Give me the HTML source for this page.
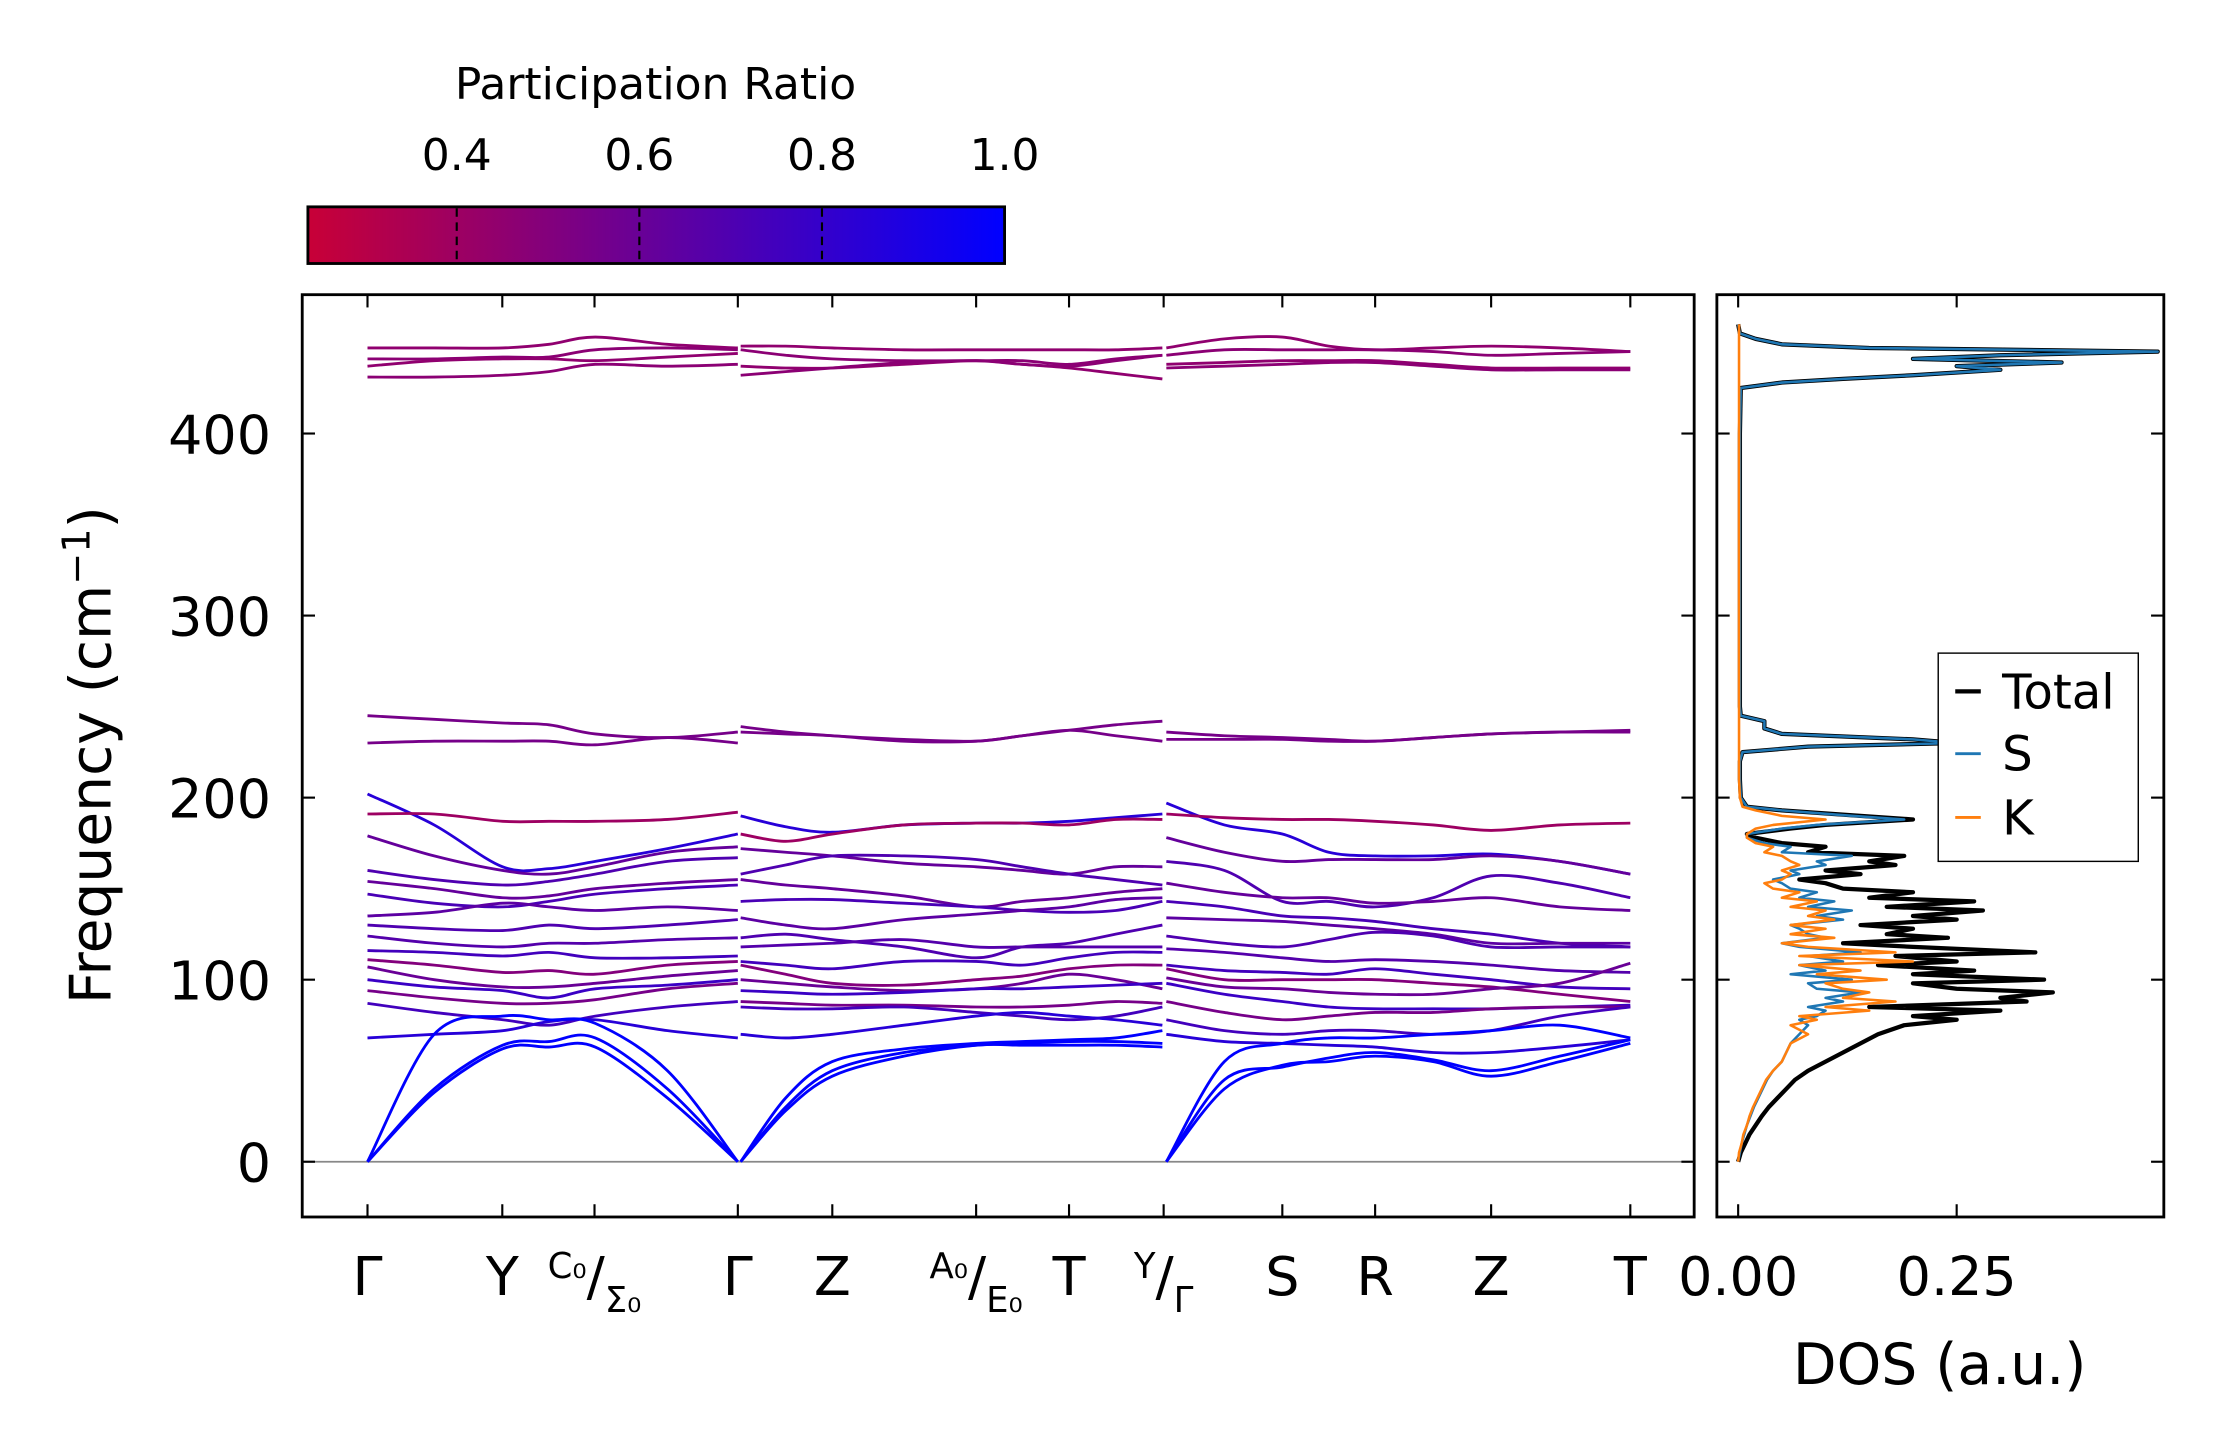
<!DOCTYPE html>
<html><head><meta charset="utf-8"><style>
html,body{margin:0;padding:0;background:#fff}
svg{display:block;font-family:"DejaVu Sans","Liberation Sans",sans-serif}
</style></head><body>
<svg id="fig" width="2222" height="1455" viewBox="0 0 1566 1027" preserveAspectRatio="none" xmlns="http://www.w3.org/2000/svg">
<defs>
<linearGradient id="cbg" x1="0" x2="1" y1="0" y2="0">
<stop offset="0" stop-color="rgb(200,0,55)"/><stop offset="1" stop-color="rgb(0,0,255)"/>
</linearGradient>
<clipPath id="mainclip"><rect x="213" y="208" width="981" height="651"/></clipPath>
<clipPath id="dosclip"><rect x="1210" y="208" width="315" height="651"/></clipPath>
</defs>
<g>
<text x="462" y="70" font-size="31" text-anchor="middle">Participation Ratio</text>
<rect x="217" y="146" width="491" height="40" fill="url(#cbg)" stroke="#000" stroke-width="2"/>
<g id="cbticks"></g>
</g>
<g id="main">
<rect x="213" y="208" width="981" height="651" fill="none" stroke="#000" stroke-width="2"/>
<g id="bands" clip-path="url(#mainclip)"></g>
<g id="mainaxes"></g>
<text transform="translate(78,533) rotate(-90)" font-size="40" text-anchor="middle">Frequency (cm<tspan dy="-15" font-size="27">−1</tspan><tspan dy="15">)</tspan></text>
</g>
<g id="dos">
<rect x="1210" y="208" width="315" height="651" fill="none" stroke="#000" stroke-width="2"/>
<g id="doslines" clip-path="url(#dosclip)"></g>
<g id="dosaxes"></g>
<text x="1367" y="977" font-size="40" text-anchor="middle">DOS (a.u.)</text>
<g>
<rect x="1366" y="461" width="141" height="147" fill="#fff" stroke="#000" stroke-width="1"/>
<line x1="1378" x2="1396" y1="488" y2="488" stroke="#000" stroke-width="3"/>
<text x="1411" y="500" font-size="34">Total</text>
<line x1="1378" x2="1396" y1="532" y2="532" stroke="#1f77b4" stroke-width="2"/>
<text x="1411" y="544" font-size="34">S</text>
<line x1="1378" x2="1396" y1="577" y2="577" stroke="#ff7f0e" stroke-width="2"/>
<text x="1411" y="589" font-size="34">K</text>
</g>
</g>
</svg>
<script>
// ---- band data (cm^-1) ----
const segKA = [0, 0.18, 0.365, 0.49, 0.615, 0.81, 1.0];
const segKB = [0, 0.106, 0.216, 0.385, 0.555, 0.664, 0.774, 0.884, 0.994];
const segKC = [0, 0.125, 0.25, 0.35, 0.45, 0.575, 0.7, 0.848, 1.0];
const segStart = [259, 522, 822];
const segEnd = [520, 821, 1149];
const bandsA = [
[447,447,447,449,453,449,447],[441,441,442,442,446,447,446],[437,440,441,441,440,442,444],[431,431,432,434,438,437,438],
[245,243,241,240,235,233,236],[230,231,231,231,229,233,230],
[202,185,162,161,165,172,180],[191,191,187,187,187,188,192],[179,168,160,158,162,170,173],[160,155,152,154,158,165,167],
[154,150,145,146,150,153,155],[147,142,140,143,147,150,152],[135,137,142,140,138,140,138],[130,128,127,130,128,130,133],
[124,120,118,120,120,122,123],[116,115,113,115,112,112,113],[111,108,104,105,103,108,110],[107,100,96,96,98,102,105],
[100,96,94,90,95,97,100],[94,90,87,87,89,95,98],[87,82,78,75,80,85,88],[68,70,72,77,78,72,68],
[0,38,62,63,63,35,0],[0,40,64,66,68,40,0],[0,70,80,78,76,50,0]
];
const bandsB = [
[448,448,447,446,446,446,446,446,447],[446,443,441,440,440,440,438,441,443],[437,436,436,438,440,438,436,433,430],[432,434,436,439,440,438,437,440,443],
[239,236,234,232,231,234,237,240,242],[236,235,234,231,231,234,237,234,231],
[190,184,181,185,186,186,187,189,191],[180,176,180,185,186,186,185,188,188],[172,170,168,164,162,160,158,162,162],[158,163,168,168,166,162,158,155,152],
[155,152,150,146,140,143,145,148,150],[143,144,144,142,140,138,137,138,143],[134,130,128,133,136,138,140,144,145],[123,125,122,118,112,118,120,125,130],
[118,119,120,122,118,118,118,118,118],[110,108,106,110,110,108,112,115,115],[108,103,98,97,100,102,106,108,108],[100,98,96,94,95,98,103,100,95],
[94,93,92,93,95,95,96,97,98],[88,87,86,86,85,85,86,88,87],[85,84,84,85,82,80,78,80,85],[70,68,70,75,80,82,80,78,75],
[0,28,47,58,64,64,64,64,63],[0,30,50,60,64,65,66,66,65],[0,35,55,62,65,66,67,68,72]
];
const bandsC = [
[447,452,453,448,446,447,448,447,445],[443,446,446,446,446,445,443,444,445],[438,439,440,440,440,438,436,436,436],[436,437,438,439,439,437,435,435,435],
[236,234,233,232,231,233,235,236,237],[232,232,232,231,231,233,235,236,236],
[197,185,180,170,168,168,169,165,158],[191,189,188,188,187,185,182,185,186],[178,170,165,166,166,166,168,165,158],[165,160,143,143,140,145,157,153,145],
[153,148,145,145,142,143,145,140,138],[143,140,135,134,132,128,125,120,118],[134,133,132,130,128,125,120,120,120],[124,120,118,122,126,124,118,118,118],
[117,115,112,110,111,110,108,105,104],[108,105,104,103,106,103,100,96,95],[106,100,100,100,100,98,96,92,88],[101,96,95,93,92,92,95,98,109],
[98,92,88,85,84,84,84,85,86],[88,82,78,80,82,82,84,85,85],[78,72,70,72,72,70,72,80,85],[70,66,65,64,63,60,60,63,67],
[0,40,53,55,58,55,47,55,65],[0,45,52,57,60,56,50,58,67],[0,55,65,68,68,70,72,75,68]
];
const bandPR = [0.45,0.47,0.45,0.47, 0.55,0.55, 0.85,0.4,0.62,0.7, 0.62,0.72,0.65,0.7, 0.68,0.75,0.5,0.6, 0.78,0.55,0.75,0.85, 1,1,1];
const kTickLabels = ["Γ","Y","C0/Σ0","Γ","Z","A0/E0","T","Y/Γ","S","R","Z","T"];
const kTickPos = [0, 0.364, 0.613, 1.0, 0.216, 0.555, 0.774, 0.997, 0.25, 0.45, 0.7, 1.0];
const kTickSeg = [0,0,0,0,1,1,1,1,2,2,2,2];
const yTicks = [0,100,200,300,400];
const cbTicks = [0.4,0.6,0.8,1.0];
// ---- DOS data ----
const dosFreq = [0,5,10,15,20,25,30,35,40,45, 50,55,60,65,70,75,78,80,83,85, 88,90,93,95,98,100,103,105,108,110, 113,115,118,120,123,125,128,130,133,135, 138,140,143,145,148,150,153,155,158,160, 163,165,168,170,173,175,178,180,183,185, 188,190,193,195,200,210,220,225,228,230, 232,235,238,242,245,250,300,400,425,428, 430,432,435,437,439,441,443,445,447,449,452,455,460];
const dosTotal = [0,.003,.008,.013,.02,.027,.035,.045,.055,.065, .08,.1,.12,.14,.16,.19,.25,.2,.3,.15, .33,.3,.36,.25,.2,.35,.2,.27,.16,.25, .18,.34,.2,.12,.24,.17,.2,.14,.25,.2, .28,.17,.27,.15,.2,.12,.1,.07,.14,.1, .18,.15,.19,.08,.1,.05,.02,.01,.06,.1, .2,.14,.05,.01,.003,.002,.002,.005,.08,.25, .2,.05,.03,.03,.003,.002,.002,.002,.003,.05, .12,.2,.3,.25,.37,.2,.3,.48,.15,.05,.02,.002,0];
const dosS = [0,.002,.004,.007,.01,.014,.018,.023,.028,.033, .04,.05,.055,.06,.07,.08,.07,.09,.1,.08, .12,.1,.14,.09,.08,.13,.06,.1,.07,.12, .08,.14,.07,.05,.1,.08,.07,.06,.12,.09, .13,.08,.11,.07,.09,.06,.05,.04,.07,.06, .1,.09,.13,.05,.06,.03,.01,.01,.05,.09, .19,.13,.05,.01,.003,.002,.002,.005,.08,.25, .2,.05,.03,.03,.003,.002,.002,.002,.003,.05, .12,.2,.3,.25,.37,.2,.3,.48,.15,.05,.02,.002,0];
const dosK = [0,.001,.004,.006,.01,.013,.017,.022,.027,.032, .04,.05,.055,.06,.08,.06,.09,.07,.15,.1, .18,.12,.15,.12,.1,.17,.09,.14,.07,.2, .07,.18,.08,.05,.11,.06,.1,.06,.11,.08, .1,.06,.09,.05,.07,.04,.03,.05,.06,.05, .07,.06,.05,.03,.04,.02,.01,.01,.02,.04, .1,.05,.02,.005,.002,.001,.001,.001,.001,.001, .001,.001,.001,.001,.001,.001,.001,.001,.001,.001, .001,.001,.001,.001,.001,.001,.001,.001,.001,.001,.001,.001,.001];
const dosTicks = [0.0, 0.25];

const NS = "http://www.w3.org/2000/svg";
function el(tag, attrs, parent){const e=document.createElementNS(NS,tag);for(const k in attrs)e.setAttribute(k,attrs[k]);parent.appendChild(e);return e;}
const yScale = f => 820 - f*1.285;
const kScale = (s,k) => segStart[s] + k*(segEnd[s]-segStart[s]);
const dosX = v => 1225 + v*616;
const cbX = v => 217 + (v-0.237)/(1-0.237)*491;
function prColor(p){const t=Math.max(0,Math.min(1,(p-0.237)/(1-0.237)));return `rgb(${Math.round(200*(1-t))},0,${Math.round(55+200*t)})`;}
function smoothPath(pts){let d=`M${pts[0][0]},${pts[0][1]}`;for(let i=0;i<pts.length-1;i++){const p0=pts[Math.max(0,i-1)],p1=pts[i],p2=pts[i+1],p3=pts[Math.min(pts.length-1,i+2)];const c1=[p1[0]+(p2[0]-p0[0])/6,p1[1]+(p2[1]-p0[1])/6],c2=[p2[0]-(p3[0]-p1[0])/6,p2[1]-(p3[1]-p1[1])/6];d+=` C${c1[0]},${c1[1]} ${c2[0]},${c2[1]} ${p2[0]},${p2[1]}`;}return d;}

// colorbar ticks
const cbg=document.getElementById('cbticks');
cbTicks.forEach(v=>{const x=cbX(v);
 if(v<1){const l=el('line',{x1:x,x2:x,y1:147,y2:185,stroke:'#000','stroke-width':1.5,'stroke-dasharray':'6,4'},cbg);
 
 }
 const t=el('text',{x:x,y:120,'font-size':31,'text-anchor':'middle'},cbg);t.textContent=v.toFixed(1);
 
 
});

// bands
const bg=document.getElementById('bands');
const zl=el('line',{x1:213,x2:1194,y1:yScale(0),y2:yScale(0),stroke:'#888','stroke-width':1.2},bg);


[[bandsA,segKA],[bandsB,segKB],[bandsC,segKC]].forEach(([bands,ks],s)=>{
 bands.forEach((b,i)=>{const pts=b.map((f,j)=>[kScale(s,ks[j]),yScale(f)]);
  const p=el('path',{d:smoothPath(pts),fill:'none',stroke:prColor(bandPR[i]),'stroke-width':2},bg);
  
  
 });
});

// main axes ticks
const ma=document.getElementById('mainaxes');
yTicks.forEach(v=>{const y=yScale(v);
 el('line',{x1:213,x2:222,y1:y,y2:y,stroke:'#000','stroke-width':1.5},ma);
 el('line',{x1:1185,x2:1194,y1:y,y2:y,stroke:'#000','stroke-width':1.5},ma);
 const t=el('text',{x:191,y:y+14,'font-size':38,'text-anchor':'end'},ma);t.textContent=v;
 
 
});
kTickLabels.forEach((lab,i)=>{const x=kScale(kTickSeg[i],kTickPos[i]);
 el('line',{x1:x,x2:x,y1:208,y2:217,stroke:'#000','stroke-width':1.5},ma);
 el('line',{x1:x,x2:x,y1:850,y2:859,stroke:'#000','stroke-width':1.5},ma);
 const t=el('text',{x:x,y:914,'font-size':38,'text-anchor':'middle'},ma);
 if(lab.includes('/')){const [a,b]=lab.split('/');
  const t1=el('tspan',{'font-size':25,dy:-12},t);t1.textContent=a.replace('0','₀');
  const t2=el('tspan',{dy:12},t);t2.textContent='/';
  const t3=el('tspan',{'font-size':25,dy:12},t);t3.textContent=b.replace('0','₀');
 } else t.textContent=lab;
 
 
});

// DOS
const dl=document.getElementById('doslines');
function dosPath(vals){return vals.map((v,i)=>(i?'L':'M')+dosX(v)+','+yScale(dosFreq[i])).join(' ');}
[[dosTotal,'#000',3,'dos-total-line'],[dosS,'#1f77b4',1.8,'dos-s-line'],[dosK,'#ff7f0e',1.8,'dos-k-line']].forEach(([v,c,w,n])=>{
 const p=el('path',{d:dosPath(v),fill:'none',stroke:c,'stroke-width':w,'stroke-linejoin':'round'},dl);
 
 
});
const da=document.getElementById('dosaxes');
yTicks.forEach(v=>{const y=yScale(v);
 el('line',{x1:1210,x2:1219,y1:y,y2:y,stroke:'#000','stroke-width':1.5},da);
 el('line',{x1:1516,x2:1525,y1:y,y2:y,stroke:'#000','stroke-width':1.5},da);
});
dosTicks.forEach(v=>{const x=dosX(v);
 el('line',{x1:x,x2:x,y1:208,y2:217,stroke:'#000','stroke-width':1.5},da);
 el('line',{x1:x,x2:x,y1:850,y2:859,stroke:'#000','stroke-width':1.5},da);
 const t=el('text',{x:x,y:914,'font-size':38,'text-anchor':'middle'},da);t.textContent=v.toFixed(2);
 
 
});
</script>
</body></html>
